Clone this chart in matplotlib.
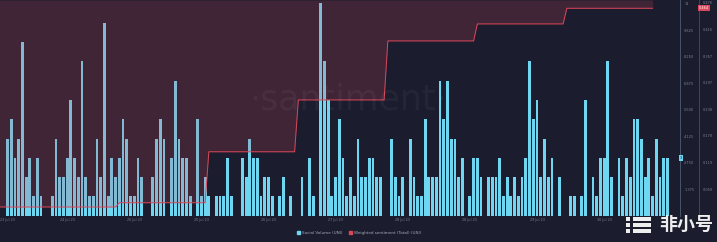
import numpy as np
import matplotlib
matplotlib.use("Agg")
import matplotlib.pyplot as plt
from matplotlib.patches import Patch, FancyBboxPatch

# hourly social volume, first bar = 23 Jul 2023 18:00
social_volume = [
    4, 5, 3, 4, 9, 2, 3, 1, 3, 1, 0, 0, 1, 4, 2, 2, 3, 6, 3, 2,
    8, 2, 1, 1, 4, 2, 10, 1, 3, 2, 3, 5, 4, 1, 1, 3, 2, 0, 0, 2,
    4, 5, 4, 0, 3, 7, 4, 3, 3, 1, 0, 5, 1, 2, 1, 0, 1, 1, 1, 3,
    1, 0, 0,
    3, 2, 4, 3, 3, 1, 2, 2, 1, 0, 1, 2, 0, 1, 0, 0, 2, 0, 3, 1,
    0, 11, 8, 6, 1, 2, 5, 3, 1, 2, 1, 4, 2, 2, 3, 3, 2, 2, 0, 0,
    4, 2, 1, 2, 0, 4, 2, 1, 1, 5, 2, 2, 2, 7, 5, 7, 4, 4, 2, 3,
    0, 1, 3, 3,
    2, 0, 2, 2, 2, 3, 1, 2, 1, 2, 1, 2, 3, 8, 5, 6, 2, 4, 2, 3,
    0, 2, 0, 0, 1, 1, 0, 1, 6, 0, 2, 1, 3, 3, 8, 2, 0, 3, 1, 3,
    2, 5, 5, 4, 2, 3, 1, 4, 2, 3, 3,
]

# daily weighted sentiment, 23 Jul .. 30 Jul 2023
sentiment_daily = [0.0195, 0.0195, 0.029, 0.143, 0.259, 0.391, 0.429, 0.464]
sentiment_start_hour = -18  # 23 Jul 00:00 relative to first bar

x_labels = ["23 Jul 23", "24 Jul 23", "25 Jul 23", "25 Jul 23", "26 Jul 23",
            "27 Jul 23", "28 Jul 23", "28 Jul 23", "29 Jul 23", "30 Jul 23"]
vol_ticks = [1.375, 2.75, 4.125, 5.5, 6.875, 8.25, 9.625, 11]
vol_labels = ["1.375", "2.750", "4.125", "5.500", "6.875", "8.250", "9.625", "11"]
sent_ticks = [0.0595, 0.119, 0.1785, 0.238, 0.2975, 0.357, 0.4165, 0.476]
sent_labels = ["0.059", "0.119", "0.178", "0.238", "0.297", "0.357", "0.416", "0.476"]

BG = "#1b1d2e"
BAR = "#6fd6f2"
RED = "#d9475a"
GREY = "#7d8294"

fig = plt.figure(figsize=(7.17, 2.42), dpi=100, facecolor=BG)
ax = fig.add_axes([0, 26.3 / 242, 680 / 717, 215.7 / 242])
ax.set_facecolor(BG)

hours = np.arange(len(social_volume))
ax.bar(hours, social_volume, width=0.75, color=BAR, zorder=2)
ax.set_xlim(-1.96, -1.96 + 680 / 3.73)
ax.set_ylim(0, 11.18)

tick_hours = [-2 + 18 * k for k in range(len(x_labels))]
ax.set_xticks(tick_hours, x_labels)
ax.tick_params(axis="x", length=0, pad=1.5, labelsize=2.4, colors=GREY)
ax.get_xticklabels()[0].set_ha("left")

# sentiment on second axis, hourly steps from daily values
ax2 = ax.twinx()
sent_hourly = np.repeat(sentiment_daily, 24)
sent_hours = np.arange(len(sent_hourly)) + sentiment_start_hour
top = 0.4825
ax2.set_ylim(0, top)
ax2.fill_between(sent_hours, sent_hourly, top, color=RED, alpha=0.2, lw=0)
ax2.plot(sent_hours, sent_hourly, color=RED, lw=0.7)
ax2.set_yticks(sent_ticks, sent_labels)
ax2.tick_params(axis="y", length=0, pad=3, labelsize=2.5, colors=GREY)
for s in ["top", "left", "bottom"]:
    ax2.spines[s].set_visible(False)
ax2.spines["right"].set_position(("axes", 699 / 680))
ax2.spines["right"].set_color("#6b3349")
ax2.spines["right"].set_linewidth(0.7)

# twinx moves the first axis ticks to the left, put them back
ax.yaxis.tick_right()
ax.set_yticks(vol_ticks, vol_labels)
ax.tick_params(axis="y", length=0, pad=3, labelsize=2.5, colors=GREY)
for s in ["top", "left", "bottom"]:
    ax.spines[s].set_visible(False)
ax.spines["right"].set_visible(True)
ax.spines["right"].set_color("#44566a")
ax.spines["right"].set_linewidth(0.7)

# current value badges
ax2.annotate(f"{sentiment_daily[-1]:.3f}", xy=(1.028, sentiment_daily[-1]),
             xycoords=("axes fraction", "data"), fontsize=2.5, color="white",
             va="center", ha="left",
             bbox=dict(boxstyle="square,pad=0.25", fc=RED, ec="none"))
ax.annotate(str(social_volume[-1]), xy=(1.0, social_volume[-1]),
            xycoords=("axes fraction", "data"), fontsize=2.5, color=BG,
            va="center", ha="left",
            bbox=dict(boxstyle="square,pad=0.3", fc=BAR, ec="none"))

# watermark
fig.text(348 / 717, 1 - 100 / 242, "·santiment·", fontsize=25, color="white",
         alpha=0.045, ha="center", va="center")

fig.legend(handles=[Patch(color=BAR, label="Social Volume (UNI)"),
                    Patch(color=RED, label="Weighted sentiment (Total) (UNI)")],
           loc="center", bbox_to_anchor=(359 / 717, 1 - 233 / 242), ncol=2,
           fontsize=3, frameon=False, handlelength=0.7, handleheight=0.7,
           handletextpad=0.5, columnspacing=1.5, labelcolor="#a3a8b8")

# 非小号 logo
for row, yy in enumerate([217, 223, 229]):
    fig.patches.append(FancyBboxPatch((626 / 717, 1 - (yy + 4) / 242), 4 / 717, 4 / 242,
                                      boxstyle="round,pad=0", transform=fig.transFigure,
                                      fc="#eeeeee", ec="none"))
    fig.patches.append(FancyBboxPatch((633 / 717, 1 - (yy + 4) / 242), 18 / 717, 4 / 242,
                                      boxstyle="round,pad=0", transform=fig.transFigure,
                                      fc="#eeeeee", ec="none"))
fig.text(686 / 717, 1 - 224 / 242, "非小号", fontsize=13, color="#eeeeee",
         ha="center", va="center", family=["Noto Sans CJK SC", "DejaVu Sans"],
         weight="bold")

fig.savefig("out.png", dpi=100, facecolor=BG)
